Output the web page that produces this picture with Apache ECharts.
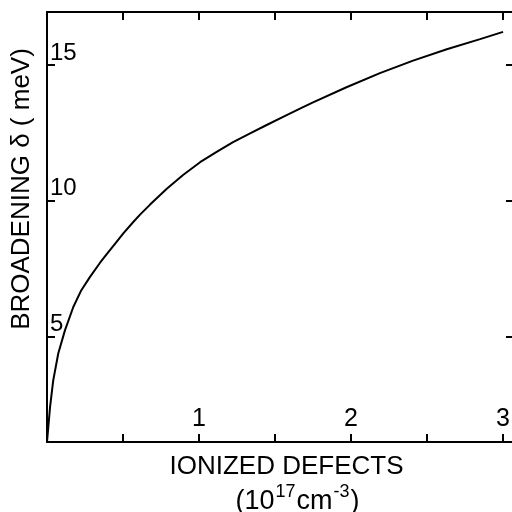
<!DOCTYPE html>
<html>
<head>
<meta charset="utf-8">
<script src="https://cdn.jsdelivr.net/npm/echarts@6/dist/echarts.min.js"></script>
<style>html,body{margin:0;padding:0;background:#fff}#c{width:512px;height:512px}</style>
</head>
<body>
<div id="c"></div>
<script>
const xValues = [0, 0.02, 0.041, 0.074, 0.118, 0.173, 0.225, 0.283, 0.349, 0.393, 0.459, 0.502, 0.566, 0.612, 0.678, 0.788, 0.895, 1.007, 1.116, 1.224, 1.336, 1.445, 1.553, 1.664, 1.75, 1.97, 2.19, 2.408, 2.63, 2.849, 3.0];
const yValues = [1.12, 2.4, 3.39, 4.38, 5.23, 6.09, 6.70, 7.20, 7.72, 8.04, 8.50, 8.80, 9.21, 9.49, 9.86, 10.44, 10.95, 11.42, 11.80, 12.16, 12.48, 12.79, 13.09, 13.39, 13.62, 14.18, 14.70, 15.16, 15.58, 15.95, 16.22];
const xTicks = [0.5, 1, 1.5, 2, 2.5, 3];
const xTickLabels = [1, 2, 3];
const yTicks = [5, 10, 15];
const yTickLabels = [5, 10, 15];
const xName = ['IONIZED DEFECTS', '(10', '17', 'cm', '-3', ')'];
const yName = 'BROADENING δ ( meV)';

const FONT = 'Liberation Sans';
const lineCol = '#000';
const data = xValues.map((x, i) => [x, yValues[i]]);
const X_MIN = 0, X_MAX = 3.072, Y_MIN = 1.12, Y_MAX = 16.95;

const chart = echarts.init(document.getElementById('c'), null, {renderer: 'canvas'});
chart.setOption({
  backgroundColor: '#fff',
  animation: false,
  grid: {left: 47, right: -2, top: 12, bottom: 70, containLabel: false, outerBoundsMode: 'none'},
  xAxis: [{
    type: 'value', min: X_MIN, max: X_MAX, position: 'bottom',
    axisLine: {show: true, onZero: false, lineStyle: {color: lineCol, width: 2}},
    axisTick: {show: true, inside: true, length: 8, customValues: xTicks, lineStyle: {color: lineCol, width: 2}},
    axisLabel: {show: true, inside: true, margin: 10, customValues: xTickLabels, color: '#000', fontFamily: FONT, fontSize: 25},
    splitLine: {show: false},
    name: '{a|' + xName[0] + '}\n{b0|' + xName[1] + '}{s|' + xName[2] + '}{b|' + xName[3] + '}{s|' + xName[4] + '}{b|' + xName[5] + '}',
    nameLocation: 'middle', nameGap: 9,
    nameTextStyle: {
      color: '#000', fontFamily: FONT, padding: [0, 0, 0, 12],
      rich: {
        a: {fontFamily: FONT, fontSize: 26, color: '#000', lineHeight: 32},
        b0: {fontFamily: FONT, fontSize: 27, color: '#000', lineHeight: 32, verticalAlign: 'bottom', padding: [0, 0, 0, 22]},
        b: {fontFamily: FONT, fontSize: 27, color: '#000', lineHeight: 32, verticalAlign: 'bottom', padding: [0, 0, 0, 1]},
        s: {fontFamily: FONT, fontSize: 18, color: '#000', lineHeight: 32, verticalAlign: 'top', padding: [0, 0, 6, 1]}
      }
    }
  }, {
    type: 'value', min: X_MIN, max: X_MAX, position: 'top',
    axisLine: {show: true, onZero: false, lineStyle: {color: lineCol, width: 2}},
    axisTick: {show: true, inside: true, length: 8, customValues: xTicks, lineStyle: {color: lineCol, width: 2}},
    axisLabel: {show: false},
    splitLine: {show: false}
  }],
  yAxis: [{
    type: 'value', min: Y_MIN, max: Y_MAX, position: 'left',
    axisLine: {show: true, onZero: false, lineStyle: {color: lineCol, width: 2}},
    axisTick: {show: true, inside: true, length: 8, customValues: yTicks, lineStyle: {color: lineCol, width: 2}},
    axisLabel: {show: true, inside: true, margin: 3, customValues: yTickLabels, verticalAlign: 'bottom', color: '#000', fontFamily: FONT, fontSize: 24},
    splitLine: {show: false},
    name: yName, nameLocation: 'middle', nameGap: 12, nameRotate: 90,
    nameTextStyle: {color: '#000', fontFamily: FONT, fontSize: 26, padding: [0, 0, 0, 76]}
  }, {
    type: 'value', min: Y_MIN, max: Y_MAX, position: 'right',
    axisLine: {show: true, onZero: false, lineStyle: {color: lineCol, width: 2}},
    axisTick: {show: true, inside: true, length: 8, customValues: yTicks, lineStyle: {color: lineCol, width: 2}},
    axisLabel: {show: false},
    splitLine: {show: false}
  }],
  series: [{
    type: 'line', data: data, xAxisIndex: 0, yAxisIndex: 0,
    smooth: false, showSymbol: false,
    lineStyle: {color: '#000', width: 2}
  }]
});
</script>
</body>
</html>
